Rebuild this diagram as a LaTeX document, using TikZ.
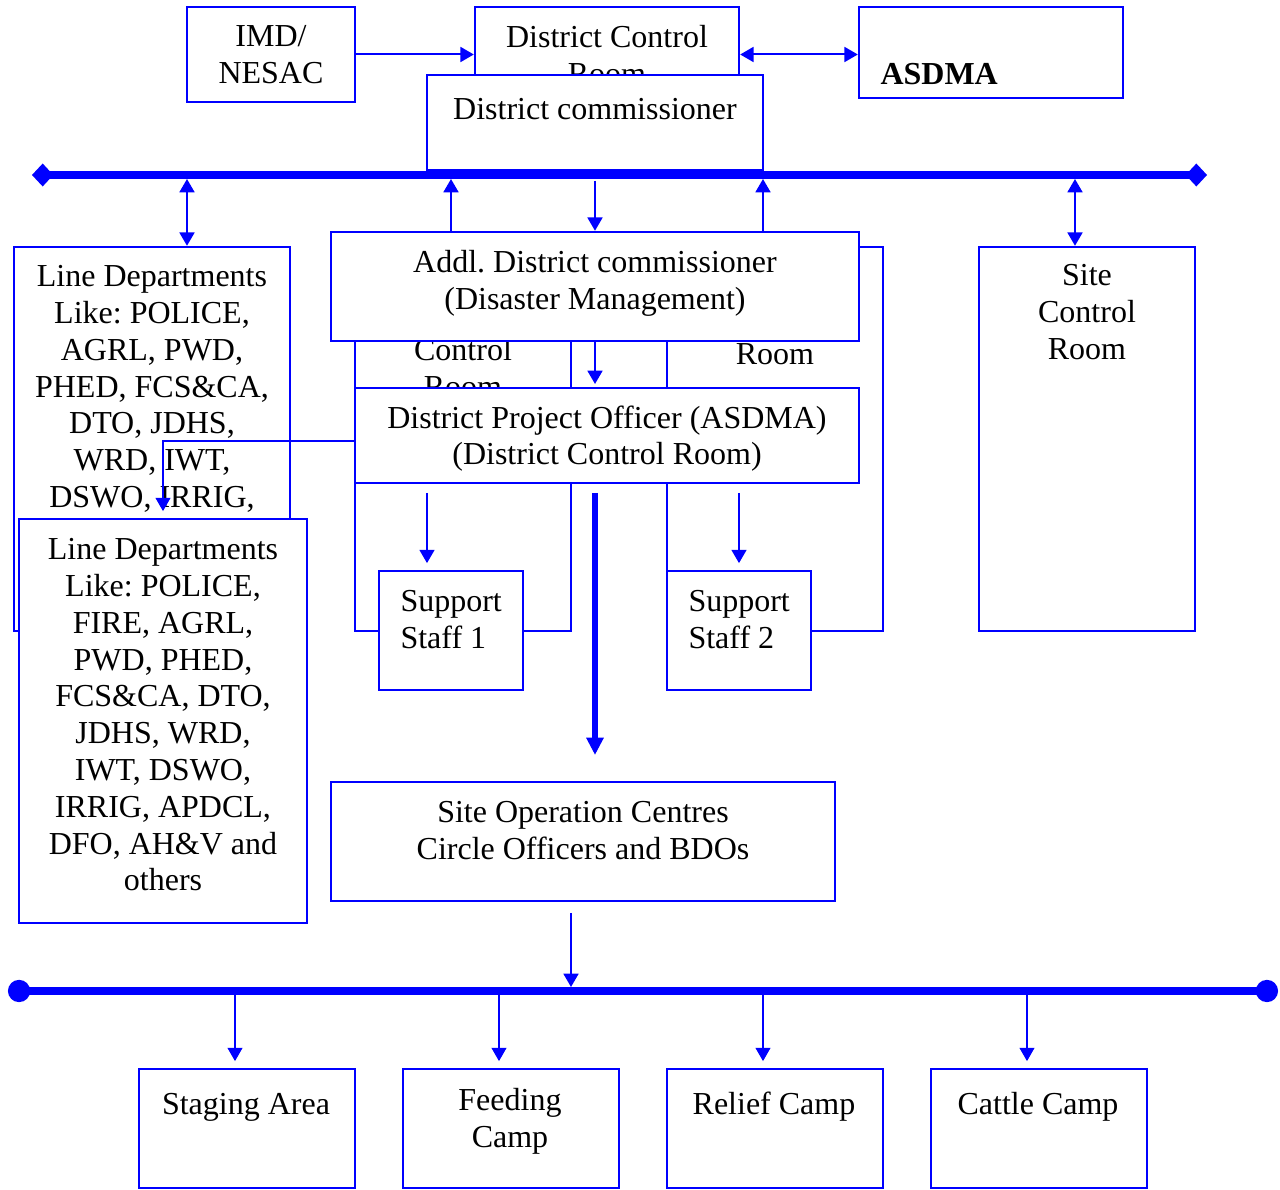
\documentclass[tikz,border=0pt]{standalone}
\usepackage{fontspec}
\setmainfont{Liberation Serif}
\usetikzlibrary{arrows.meta,fit}
\frenchspacing

\begin{document}
\begin{tikzpicture}[x=0.375pt,y=-0.375pt,
  font=\fontsize{12}{13.8}\selectfont,
  >={Triangle[length=5pt,width=5.6pt]},
  box/.style={draw=blue,line width=0.9pt,fill=white,inner sep=0pt},
  txt/.style={align=center,inner sep=0pt,anchor=north,execute at begin node=\strut},
  link/.style={blue,line width=0.75pt},
  thinlink/.style={blue,line width=0.5pt},
  bus/.style={blue,line width=2.7pt}]
\useasboundingbox (0,0) rectangle (1280,1190);
\node(imd)[box,fit={(187,7) (355,102)}] {};
\node(imd-t) at (271,25)[txt] {IMD/\\NESAC};
\node(dcr)[box,fit={(475,7) (739,75)}] {};
\node(dcr-t) at (607,25)[txt] {District Control\\Room};
\node(asdma)[box,fit={(859,7) (1123,98)}] {};
\node(asdma-t) at (880,58)[txt,anchor=north west] {\bfseries ASDMA};
\node(dc)[box,fit={(427,75) (763,170)}] {};
\node(dc-t) at (595,93)[txt] {District commissioner};
\draw[link,->] (imd.east) -- (imd.east -| dcr.west);
\draw[link,<->] (imd.east -| dcr.east) -- (imd.east -| asdma.west);
% top bus
\coordinate(tbl) at (32,175);
\coordinate(tbr) at (1207,175);
\draw[bus,{Diamond[length=8pt,width=8.6pt]}-{Diamond[length=8pt,width=8.6pt]}] (tbl) -- (tbr);
\coordinate(b1) at (187,179);
\coordinate(b2) at (451,179);
\coordinate(b3) at (595,181);
\coordinate(b4) at (763,179);
\coordinate(b5) at (1075,179);
\node(ld1)[box,fit={(14,247) (290,631)}] {};
\node(ld1-t) at (152,265)[txt] {Line Departments\\Like: POLICE,\\AGRL, PWD,\\PHED, FCS\&CA,\\DTO, JDHS,\\WRD, IWT,\\DSWO, IRRIG,};
\node(scr)[box,fit={(979,247) (1195,631)}] {};
\node(scr-t) at (1087,264)[txt] {Site\\Control\\Room};
\node(cra)[box,fit={(355,247) (571,631)}] {};
\node(cra-t) at (463,338)[txt] {Control\\Room};
\node(crb)[box,fit={(667,247) (883,631)}] {};
\node(crb-t) at (775,338)[txt] {Room};
\node(adc)[box,fit={(331,232) (859,341)}] {};
\node(adc-t) at (595,250)[txt] {Addl. District commissioner\\(Disaster Management)};
\node(dpo)[box,fit={(355,388) (859,483)}] {};
\node(dpo-t) at (607,405)[txt] {District Project Officer (ASDMA)\\(District Control Room)};
\node(ss1)[box,fit={(379,571) (523,690)}] {};
\node(ss1-t) at (400,590)[txt,anchor=north west,align=left] {Support\\Staff 1};
\node(ss2)[box,fit={(667,571) (811,690)}] {};
\node(ss2-t) at (688,590)[txt,anchor=north west,align=left] {Support\\Staff 2};
\draw[link,<->] (b1) -- (b1 |- ld1.north);
\draw[link,<->] (b5) -- (b5 |- scr.north);
\draw[link,->] (b2 |- adc.north) -- (b2);
\draw[link,->] (b4 |- adc.north) -- (b4);
\draw[link,->] (b3) -- (adc.north);
\coordinate(d1) at (595,384);
\draw[link,->] (adc.south) -- (d1);
\coordinate(p1) at (355,441);
\node(ld2)[box,fit={(19,519) (307,923)}] {};
\node(ld2-t) at (163,538)[txt] {Line Departments\\Like: POLICE,\\FIRE, AGRL,\\PWD, PHED,\\FCS\&CA, DTO,\\JDHS, WRD,\\IWT, DSWO,\\IRRIG, APDCL,\\DFO, AH\&V and\\others};
\draw[thinlink,->,shorten >=2.5pt] (p1) -| (ld2.north);
\coordinate(s1) at (427,493);
\coordinate(s2) at (739,493);
\coordinate(s3) at (595,493);
\coordinate(s4) at (595,755);
\draw[link,->,shorten >=2.5pt] (s1) -- (s1 |- ss1.north);
\draw[link,->,shorten >=2.5pt] (s2) -- (ss2.north);
\draw[blue,line width=1.9pt,-{Triangle[length=6.5pt,width=6.2pt]}] (s3) -- (s4);
\node(soc)[box,fit={(331,782) (835,901)}] {};
\node(soc-t) at (583,801)[txt] {Site Operation Centres\\Circle Officers and BDOs};
% bottom bus
\coordinate(c1) at (571,913);
\coordinate(c2) at (571,987);
\draw[link,->] (c1) -- (c2);
\coordinate(bbl) at (8,991);
\coordinate(bbr) at (1278,991);
\draw[bus,{Circle[length=8.3pt]}-{Circle[length=8.3pt]}] (bbl) -- (bbr);
\foreach \n/\x/\t in {stag/139/Staging Area,feed/403/Feeding\\Camp,relief/667/Relief Camp,cattle/931/Cattle Camp}{
  \node(\n)[box,fit={(\x,1069) (\x+216,1188)}] {};
  \node(\n-t) at (\x+107,1088)[txt] {\t};
  \coordinate(\n-in) at (\x+96,995);
  \draw[thinlink,->,shorten >=2.5pt] (\n-in) -- (\n-in |- \n.north);
}
\end{tikzpicture}
\end{document}
